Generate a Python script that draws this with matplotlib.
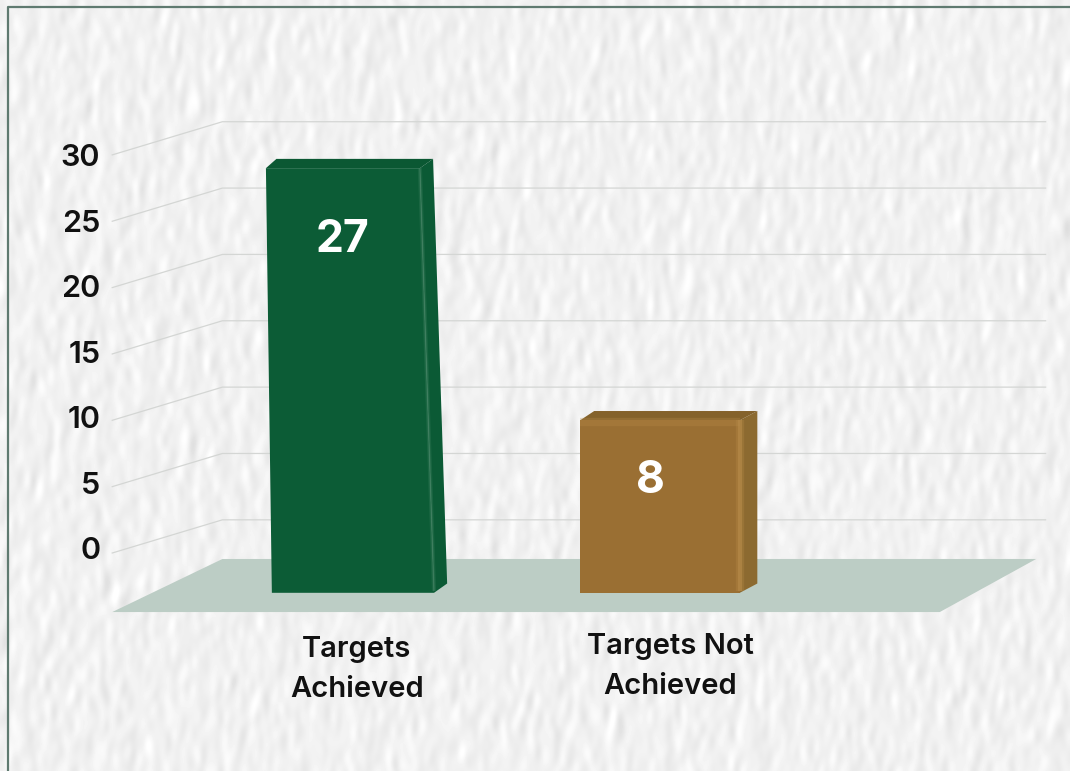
#
# Faux 3-D bar chart of targets achieved / not achieved on a paper background.
#

import matplotlib
matplotlib.use('Agg')
import matplotlib.pyplot as plt
import numpy as np
from matplotlib.patches import Polygon

categories = ['Targets\nAchieved', 'Targets Not\nAchieved']
values = [27, 8]
y_ticks = [0, 5, 10, 15, 20, 25, 30]

face_colors = ['#0c5c36', '#9a6f33']
top_colors = ['#0b5833', '#84622b']
side_colors = ['#0b5a35', '#8c6a30']
light_colors = ['#3f8060', '#b88c4a']

plt.rcParams['font.family'] = ['Inter', 'DejaVu Sans']

fig = plt.figure(figsize=(10.7, 7.71), dpi=100)
ax = fig.add_axes([0, 0, 1, 1])
ax.set_xlim(-357 / 313, (1070 - 357) / 313)
ax.set_ylim((553 - 771) / 13.27, 553 / 13.27)
ax.axis('off')

# paper texture, only decoration
rng = np.random.default_rng(4)
noise = rng.normal(size=(771, 1070))
fy = np.fft.fftfreq(771)[:, None]
fx = np.fft.fftfreq(1070)[None, :]
soft = np.fft.ifft2(np.fft.fft2(noise) * np.exp(-(fx * 16) ** 2 - (fy * 30) ** 2)).real
relief = np.gradient(soft, axis=1) + 0.3 * np.gradient(soft, axis=0)
relief = relief / relief.std()
paper = np.clip(0.945 + 0.016 * relief, 0.86, 1)
ax.imshow(paper, cmap='gray', vmin=0, vmax=1, extent=[*ax.get_xlim(), *ax.get_ylim()],
          origin='upper', aspect='auto', interpolation='bilinear', zorder=0)

# frame
ax.plot([0.0075, 0.0075, 1], [0, 0.991, 0.991], transform=ax.transAxes, color='#5f7a70', lw=1.6, zorder=1)

# side wall and back wall grid lines
for t in y_ticks:
    ax.plot([-0.782, -0.43, 2.2], [t, t + 2.5, t + 2.5], color='#d4d6d4', lw=0.9, zorder=1)
    ax.text(-0.82, t * 0.987 + 0.15, str(t), ha='right', va='center', fontsize=22, fontweight='semibold',
            color='#111111', zorder=5)

# floor
ax.add_patch(Polygon([(-0.782, -4.45), (-0.43, -0.45), (2.17, -0.45), (1.862, -4.45)],
                     closed=True, color='#bccdc5', lw=0, zorder=2))

# bars, drawn with a lift and a depth so they look like the 3-D original
base = -3.0
lift = 2.0
depth = 0.7
dx = [0.042, 0.056]
top_shift = [-0.032, 0.0]
top_narrow = [0.013, 0.0]
centers = [-0.013, -0.032]
half_width = [0.259, 0.255]
label_drop = [3.45, 2.55]
label_dx = [0.0, -0.032]

for i, v in enumerate(values):
    xb0 = i + centers[i] - half_width[i]
    xb1 = i + centers[i] + half_width[i]
    xt0 = xb0 + top_shift[i] + top_narrow[i]
    xt1 = xb1 + top_shift[i] - top_narrow[i]
    yt = v + lift
    ax.add_patch(Polygon([(xb1, base), (xt1, yt), (xt1 + dx[i], yt + depth), (xb1 + dx[i], base + depth)],
                         closed=True, color=side_colors[i], lw=0, zorder=3))
    ax.add_patch(Polygon([(xt0, yt), (xt0 + dx[i] * 0.8, yt + depth), (xt1 + dx[i], yt + depth), (xt1, yt)],
                         closed=True, color=top_colors[i], lw=0, zorder=3))
    ax.add_patch(Polygon([(xb0, base), (xt0, yt), (xt1, yt), (xb1, base)],
                         closed=True, color=face_colors[i], lw=0, zorder=3))
    # bevel highlight along the right edge, and the top on the brown bar
    ax.plot([xt1, xb1], [yt, base + 0.15], color=light_colors[i], lw=6 if i else 3, alpha=0.3,
            solid_capstyle='butt', zorder=4)
    ax.plot([xt1, xb1], [yt, base + 0.15], color=light_colors[i], lw=3 if i else 1.2, alpha=0.6,
            solid_capstyle='butt', zorder=4)
    if i == 1:
        ax.plot([xt0, xt1], [yt - 0.15, yt - 0.15], color=light_colors[i], lw=6, alpha=0.3,
                solid_capstyle='butt', zorder=4)
    ax.text((xt0 + xt1) / 2 + label_dx[i], v - label_drop[i], str(v), ha='center', va='center', color='white',
            fontsize=32, fontweight='bold', zorder=5)

# category labels
label_y = [-8.8, -8.55]
for i, c in enumerate(categories):
    ax.text(i, label_y[i], c, ha='center', va='center', fontsize=21, fontweight='semibold',
            color='#111111', linespacing=1.6, zorder=5)

fig.savefig('out.png', dpi=100)
